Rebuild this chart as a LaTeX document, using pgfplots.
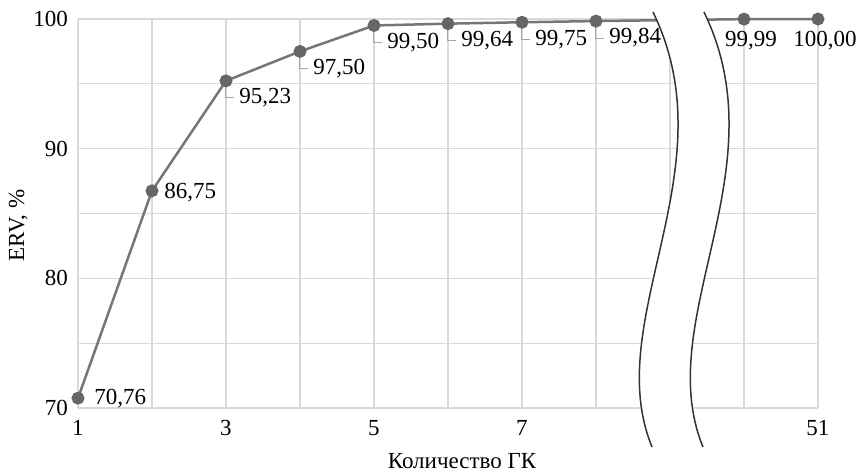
\documentclass[border=0pt]{standalone}
\usepackage{fontspec}
\setmainfont{Liberation Serif}
\usepackage{pgfplots}
\pgfplotsset{compat=1.18}
\definecolor{gridc}{HTML}{D9D9D9}
\definecolor{linec}{HTML}{767676}
\definecolor{markc}{HTML}{666666}
\definecolor{leadc}{HTML}{A6A6A6}
\newcommand{\fs}{\fontsize{11.5}{13.8}\selectfont}
\newcommand{\lead}[3]{%
  \draw[leadc, line width=0.5pt] ([yshift=-2.5pt]axis cs:#1,#2) -- ([yshift=-8.5pt]axis cs:#1,#2) -- ([xshift=4pt,yshift=-8.5pt]axis cs:#1,#2);
  \node[anchor=west, inner sep=0pt] at ([xshift=6.5pt,yshift=-8.5pt]axis cs:#1,#2) {#3};}
\begin{document}
\begin{tikzpicture}[font=\fs]
\begin{axis}[
  scale only axis, width=370pt, height=194.5pt,
  xmin=1, xmax=11, ymin=70, ymax=100,
  xtick={1,3,5,7,11}, xticklabels={1,3,5,7,51},
  minor xtick={2,4,6,8,9,10},
  ytick={70,80,90,100}, minor ytick={75,85,95},
  grid=both,
  major grid style={gridc, line width=0.6pt},
  minor grid style={gridc, line width=0.6pt},
  axis x line*=bottom, axis y line*=left,
  axis line style={gridc, line width=0.6pt},
  major tick length=0pt, minor tick length=0pt,
  /pgf/number format/assume math mode=true,
  tick label style={font=\fs, text=black},
  xticklabel style={yshift=-2.5pt},
  yticklabel style={xshift=-1.5pt},
  xlabel={Количество ГК}, ylabel={ERV, \%},
  label style={font=\fs},
  xlabel style={yshift=-2pt, xshift=7pt},
  ylabel style={yshift=-4pt, xshift=-6pt},
  clip=false,
]
\addplot[color=linec, line width=1.25pt, mark=*, mark size=2.6pt,
  mark options={fill=markc, draw=markc}] coordinates {
  (1,70.76) (2,86.75) (3,95.23) (4,97.50) (5,99.50) (6,99.64) (7,99.75) (8,99.84) (10,99.99) (11,100.00)};
% axis break band
\fill[white] (axis cs:8.770,100.54) .. controls (axis cs:9.811,88.36) and (axis cs:8.054,76.79) .. (axis cs:8.757,66.99)
  -- (axis cs:9.446,66.99) .. controls (axis cs:8.743,76.79) and (axis cs:10.50,88.36) .. (axis cs:9.459,100.54) -- cycle;
\draw[color=black!80, line width=0.75pt] (axis cs:8.770,100.54) .. controls (axis cs:9.811,88.36) and (axis cs:8.054,76.79) .. (axis cs:8.757,66.99);
\draw[color=black!80, line width=0.75pt] (axis cs:9.459,100.54) .. controls (axis cs:10.50,88.36) and (axis cs:8.743,76.79) .. (axis cs:9.446,66.99);
% data labels
\node[anchor=west, inner sep=0pt] at ([xshift=8pt]axis cs:1,70.76) {70,76};
\node[anchor=west, inner sep=0pt] at ([xshift=6pt,yshift=-1pt]axis cs:2,86.75) {86,75};
\lead{3}{95.23}{95,23}
\lead{4}{97.50}{97,50}
\lead{5}{99.50}{99,50}
\lead{6}{99.64}{99,64}
\lead{7}{99.75}{99,75}
\lead{8}{99.84}{99,84}
\node[anchor=center, inner sep=0pt] at ([xshift=3.5pt,yshift=-11pt]axis cs:10,99.99) {99,99};
\node[anchor=center, inner sep=0pt] at ([xshift=3.5pt,yshift=-11pt]axis cs:11,100.00) {100,00};
\coordinate (SW) at (rel axis cs:0,0);
\end{axis}
\pgfresetboundingbox
\path (SW) ++(-39pt,-32pt) rectangle ++(429.5pt,236pt);
\end{tikzpicture}
\end{document}
